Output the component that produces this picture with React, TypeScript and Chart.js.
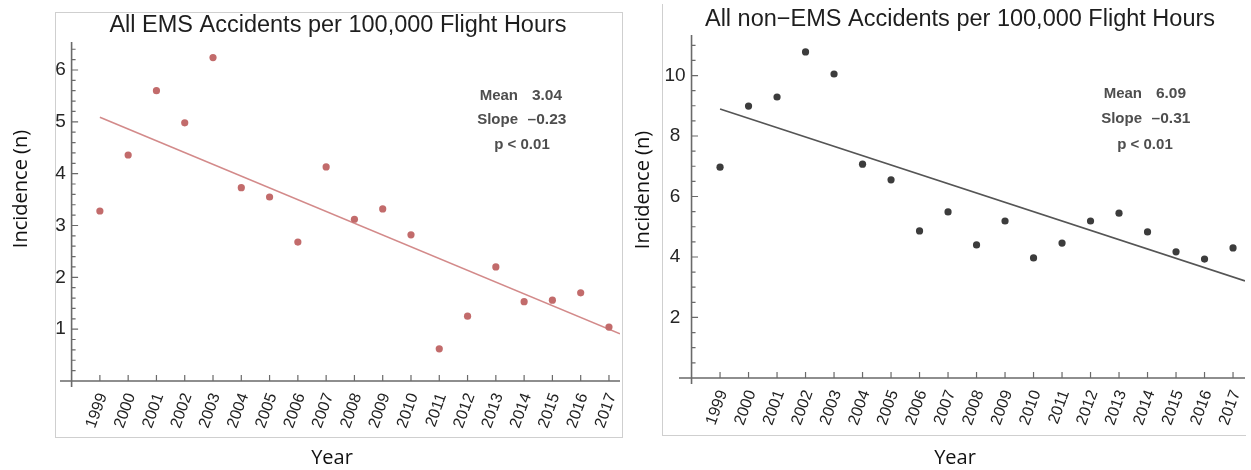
import React, { useEffect, useRef } from "react";
import { Chart, registerables } from "chart.js";

Chart.register(...registerables);

// ---- data ----
const years = [1999, 2000, 2001, 2002, 2003, 2004, 2005, 2006, 2007, 2008, 2009, 2010, 2011, 2012, 2013, 2014, 2015, 2016, 2017];
const yearLabels = ["1999", "2000", "2001", "2002", "2003", "2004", "2005", "2006", "2007", "2008", "2009", "2010", "2011", "2012", "2013", "2014", "2015", "2016", "2017"];
const emsRates = [3.28, 4.36, 5.6, 4.98, 6.24, 3.73, 3.55, 2.68, 4.13, 3.12, 3.32, 2.82, 0.62, 1.25, 2.2, 1.53, 1.56, 1.7, 1.04];
const nonEmsRates = [6.97, 8.99, 9.29, 10.78, 10.05, 7.07, 6.55, 4.86, 5.49, 4.4, 5.19, 3.97, 4.46, 5.19, 5.45, 4.83, 4.17, 3.93, 4.3];
const emsTrendX = [1999, 2017.39];
const emsTrendY = [5.09, 0.91];
const nonEmsTrendX = [1999, 2017.42];
const nonEmsTrendY = [8.89, 3.21];
const emsYTicks = [1, 2, 3, 4, 5, 6];
const nonEmsYTicks = [2, 4, 6, 8, 10];
const emsTitle = "All EMS Accidents per 100,000 Flight Hours";
const nonEmsTitle = "All non\u2212EMS Accidents per 100,000 Flight Hours";
const emsMean = "3.04";
const emsSlope = "\u20130.23";
const nonEmsMean = "6.09";
const nonEmsSlope = "\u20130.31";
const pText = "p < 0.01";
const yAxisTitle = "Incidence (n)";
const xAxisTitle = "Year";

const SANS = '"Liberation Sans", Arial, sans-serif';
const AXIS_COLOR = "#6a6a6a";

type PanelCfg = {
  left: number;
  width: number;
  pad: { left: number; right: number; top: number; bottom: number };
  xMin: number;
  xMax: number;
  yMin: number;
  yMax: number;
  values: number[];
  trendX: number[];
  trendY: number[];
  yTicks: number[];
  majorStep: number;
  minorStep: number;
  dotColor: string;
  lineColor: string;
  title: string;
  titleX: number;
  titleY: number;
  mean: string;
  slope: string;
  statLabelRight: number;
  statValueCenter: number;
  statRows: number[];
  pX: number;
  pY: number;
  yLabelOffset: number;
  yTitleX: number;
  yTitleY: number;
  xTitleX: number;
  xTitleY: number;
};

function makeDecor(cfg: PanelCfg) {
  return {
    id: "decor",
    beforeDatasetsDraw(chart: any) {
      const ctx: any = chart.ctx;
      const xs = chart.scales.x;
      const ys = chart.scales.y;
      const ca = chart.chartArea;
      const ax = xs.getPixelForValue(1998);
      const ay = ys.getPixelForValue(0);
      ctx.save();
      // axis lines
      ctx.strokeStyle = AXIS_COLOR;
      ctx.lineWidth = 1.6;
      ctx.beginPath();
      ctx.moveTo(ca.left, ay);
      ctx.lineTo(ca.right, ay);
      ctx.moveTo(ax, ca.top);
      ctx.lineTo(ax, ca.bottom);
      ctx.stroke();
      // ticks
      ctx.lineWidth = 1.2;
      ctx.beginPath();
      for (const yr of years) {
        const px = xs.getPixelForValue(yr);
        ctx.moveTo(px, ay);
        ctx.lineTo(px, ay - 6);
      }
      for (const v of cfg.yTicks) {
        const py = ys.getPixelForValue(v);
        ctx.moveTo(ax, py);
        ctx.lineTo(ax + 6.5, py);
      }
      for (let k = 1; k * cfg.minorStep <= cfg.yMax; k++) {
        const v = k * cfg.minorStep;
        const r = v / cfg.majorStep;
        if (Math.abs(r - Math.round(r)) < 1e-6) continue;
        const py = ys.getPixelForValue(v);
        ctx.moveTo(ax, py);
        ctx.lineTo(ax + 4, py);
      }
      ctx.stroke();

      // y tick labels
      ctx.fillStyle = "#262626";
      ctx.font = `19px ${SANS}`;
      ctx.textAlign = "center";
      ctx.textBaseline = "middle";
      for (const v of cfg.yTicks) {
        ctx.fillText(String(v), ax - cfg.yLabelOffset, ys.getPixelForValue(v));
      }
      // x tick labels
      ctx.fillStyle = "#222";
      ctx.font = `16px ${SANS}`;
      ctx.textAlign = "right";
      years.forEach((yr, i) => {
        const px = xs.getPixelForValue(yr);
        ctx.save();
        ctx.translate(px + 3, ay + 13);
        ctx.rotate((-70 * Math.PI) / 180);
        ctx.fillText(yearLabels[i], 0, 0);
        ctx.restore();
      });

      // title
      ctx.fillStyle = "#1e1e1e";
      ctx.font = `23.5px ${SANS}`;
      ctx.textAlign = "center";
      ctx.textBaseline = "alphabetic";
      ctx.fillText(cfg.title, cfg.titleX, cfg.titleY);

      // stats
      ctx.fillStyle = "#4e4e4e";
      ctx.font = `bold 15px ${SANS}`;
      ctx.textBaseline = "middle";
      ctx.textAlign = "right";
      ctx.fillText("Mean", cfg.statLabelRight, cfg.statRows[0]);
      ctx.fillText("Slope", cfg.statLabelRight, cfg.statRows[1]);
      ctx.font = `bold 15.5px ${SANS}`;
      ctx.textAlign = "center";
      ctx.fillText(cfg.mean, cfg.statValueCenter, cfg.statRows[0]);
      ctx.fillText(cfg.slope, cfg.statValueCenter, cfg.statRows[1]);
      ctx.font = `bold 15px ${SANS}`;
      ctx.fillText(pText, cfg.pX, cfg.pY);

      // axis titles
      ctx.fillStyle = "#111";
      ctx.font = `20px "Open Sans", "Noto Sans", sans-serif`;
      ctx.textAlign = "center";
      ctx.textBaseline = "middle";
      ctx.fillText(xAxisTitle, cfg.xTitleX, cfg.xTitleY);
      ctx.save();
      ctx.translate(cfg.yTitleX, cfg.yTitleY);
      ctx.rotate(-Math.PI / 2);
      ctx.fillText(yAxisTitle, 0, 0);
      ctx.restore();

      ctx.restore();
    },
  };
}

function Panel({ cfg }: { cfg: PanelCfg }) {
  const ref = useRef<HTMLCanvasElement>(null);
  useEffect(() => {
    if (!ref.current) return;
    const chart = new Chart(ref.current, {
      type: "scatter",
      data: {
        datasets: [
          {
            data: years.map((yr, i) => ({ x: yr, y: cfg.values[i] })),
            backgroundColor: cfg.dotColor,
            borderWidth: 0,
            pointRadius: 3.6,
          },
          {
            type: "line",
            data: cfg.trendX.map((x, i) => ({ x, y: cfg.trendY[i] })),
            borderColor: cfg.lineColor,
            borderWidth: 1.6,
            pointRadius: 0,
            fill: false,
          } as any,
        ],
      },
      options: {
        responsive: false,
        animation: false,
        events: [],
        layout: { padding: cfg.pad },
        plugins: {
          legend: { display: false },
          tooltip: { enabled: false },
          title: { display: false },
        },
        scales: {
          x: { type: "linear", display: false, min: cfg.xMin, max: cfg.xMax },
          y: { type: "linear", display: false, min: cfg.yMin, max: cfg.yMax },
        },
      },
      plugins: [makeDecor(cfg)],
    });
    return () => chart.destroy();
  }, [cfg]);
  return (
    <canvas
      ref={ref}
      width={cfg.width}
      height={470}
      style={{ position: "absolute", left: cfg.left, top: 0, width: cfg.width, height: 470 }}
    />
  );
}

const emsCfg: PanelCfg = {
  left: 0,
  width: 625,
  pad: { left: 60, right: 5, top: 42, bottom: 83 },
  xMin: 1997.59,
  xMax: 2017.39,
  yMin: -0.116,
  yMax: 6.54,
  values: emsRates,
  trendX: emsTrendX,
  trendY: emsTrendY,
  yTicks: emsYTicks,
  majorStep: 1,
  minorStep: 0.2,
  dotColor: "#c26b6b",
  lineColor: "#d38a8a",
  title: emsTitle,
  titleX: 338,
  titleY: 32,
  mean: emsMean,
  slope: emsSlope,
  statLabelRight: 518,
  statValueCenter: 547,
  statRows: [96, 120],
  pX: 522,
  pY: 145,
  yLabelOffset: 11,
  yTitleX: 21,
  yTitleY: 189,
  xTitleX: 332,
  xTitleY: 458,
};

const nonEmsCfg: PanelCfg = {
  left: 625,
  width: 626,
  pad: { left: 54, right: 6, top: 35, bottom: 86 },
  xMin: 1997.56,
  xMax: 2017.42,
  yMin: -0.2,
  yMax: 11.34,
  values: nonEmsRates,
  trendX: nonEmsTrendX,
  trendY: nonEmsTrendY,
  yTicks: nonEmsYTicks,
  majorStep: 2,
  minorStep: 0.5,
  dotColor: "#3c3c3c",
  lineColor: "#555555",
  title: nonEmsTitle,
  titleX: 335,
  titleY: 26,
  mean: nonEmsMean,
  slope: nonEmsSlope,
  statLabelRight: 517,
  statValueCenter: 546,
  statRows: [94, 119],
  pX: 520,
  pY: 145,
  yLabelOffset: 16.5,
  yTitleX: 18,
  yTitleY: 190,
  xTitleX: 330,
  xTitleY: 458,
};

export default function App() {
  return (
    <div style={{ position: "fixed", left: 0, top: 0, width: 1251, height: 470, background: "#fff", overflow: "hidden" }}>
      <div
        style={{
          position: "absolute",
          left: 55,
          top: 12,
          width: 568,
          height: 426,
          boxSizing: "border-box",
          border: "1px solid #cfcfcf",
        }}
      />
      <div
        style={{
          position: "absolute",
          left: 662,
          top: 4,
          width: 584,
          height: 432,
          boxSizing: "border-box",
          borderLeft: "1px solid #cfcfcf",
          borderBottom: "1px solid #cfcfcf",
        }}
      />
      <Panel cfg={emsCfg} />
      <Panel cfg={nonEmsCfg} />
    </div>
  );
}
